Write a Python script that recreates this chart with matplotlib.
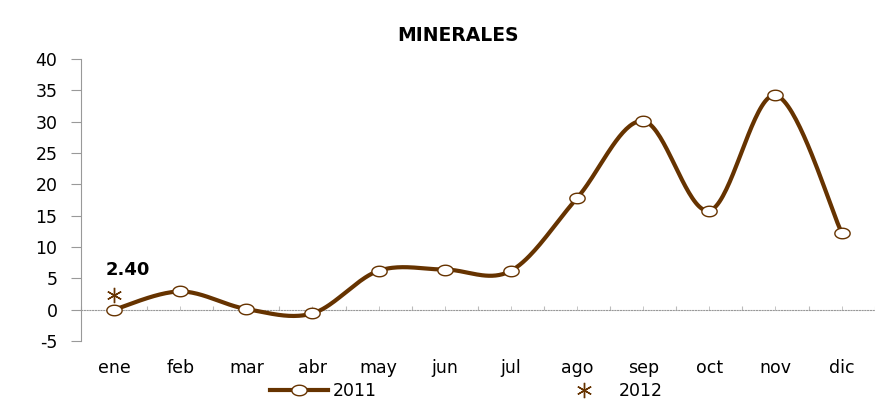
import numpy as np
import matplotlib
matplotlib.use("Agg")
import matplotlib.pyplot as plt
from matplotlib.path import Path
from matplotlib.lines import Line2D

months = ["ene", "feb", "mar", "abr", "may", "jun", "jul", "ago", "sep", "oct", "nov", "dic"]
v2011 = [0.0, 2.9, 0.1, -0.6, 6.2, 6.4, 6.2, 17.8, 30.1, 15.8, 34.2, 12.3]
v2012 = [2.40]
yticks = [-5, 0, 5, 10, 15, 20, 25, 30, 35, 40]

BROWN = "#663300"
plt.rcParams['font.family'] = ['DejaVu Sans']
plt.rcParams['axes.unicode_minus'] = False

fig = plt.figure(figsize=(8.75, 4.04), dpi=100)
ax = fig.add_axes([0.0926, 0.156, 0.907, 0.698])

x = np.arange(len(months))
y = np.array(v2011, dtype=float)

# Catmull-Rom / Bezier smoothing like Excel
def smooth(xs, ys, n=40):
    px = np.concatenate([[xs[0]], xs, [xs[-1]]])
    py = np.concatenate([[ys[0]], ys, [ys[-1]]])
    ox, oy = [], []
    for i in range(1, len(px) - 2):
        p0 = np.array([px[i-1], py[i-1]]); p1 = np.array([px[i], py[i]])
        p2 = np.array([px[i+1], py[i+1]]); p3 = np.array([px[i+2], py[i+2]])
        c1 = p1 + (p2 - p0) / 6.0
        c2 = p2 - (p3 - p1) / 6.0
        t = np.linspace(0, 1, n)[:, None]
        b = (1-t)**3*p1 + 3*(1-t)**2*t*c1 + 3*(1-t)*t**2*c2 + t**3*p2
        ox.extend(b[:, 0]); oy.extend(b[:, 1])
    return np.array(ox), np.array(oy)

sx, sy = smooth(x.astype(float), y)
ax.plot(sx, sy, color=BROWN, lw=3.0, solid_capstyle='round', zorder=3)

th = np.linspace(0, 2*np.pi, 60)
ell = Path(np.column_stack([1.45*np.cos(th), np.sin(th)]), closed=True)
ax.plot(x, y, ls='none', marker=ell, ms=11, mfc='white', mec=BROWN, mew=1.0, zorder=4)

ax.plot(x[:len(v2012)], v2012, ls='none', marker=(6, 2, 0), ms=11, color=BROWN, mew=1.0, zorder=4)
ax.annotate(f"{v2012[0]:.2f}", (x[0], v2012[0]), xytext=(10, 18), textcoords='offset points',
            ha='center', va='center', fontsize=13, fontweight='bold', color='black')

ax.set_xlim(-0.5, 11.5)
ax.set_ylim(-5, 40)
ax.set_yticks(yticks)
ax.tick_params(axis='y', length=7, color='#999999', labelsize=12.5, pad=10, labelcolor='black')
for s in ['top', 'right']:
    ax.spines[s].set_visible(False)
ax.spines['left'].set_color('#999999')
ax.spines['bottom'].set_position(('data', 0))
ax.spines['bottom'].set_color('#999999')
ax.spines['bottom'].set_linestyle((0, (1, 1.5)))
ax.spines['bottom'].set_linewidth(0.8)
ax.set_xticks(np.arange(-0.5, 12, 1.0))
ax.set_xticks(x, minor=True)
ax.tick_params(axis='x', which='both', direction='in', length=3, color='#bbbbbb', labelbottom=False)

sec = ax.secondary_xaxis(0)
sec.set_xticks(x)
sec.set_xticklabels(months)
sec.tick_params(length=0, labelsize=12.5, pad=13)
sec.spines['bottom'].set_visible(False)

fig.text(0.523, 0.913, "MINERALES", ha='center', va='center', fontsize=13.5, fontweight='bold')

h1 = Line2D([], [], color=BROWN, lw=3, marker=ell, ms=11, mfc='white', mec=BROWN)
h2 = Line2D([], [], ls='none', color=BROWN, marker=(6, 2, 0), ms=11, mew=1.0)
fig.legend([h1, h2], ["2011", "2012"], loc='center', bbox_to_anchor=(0.533, 0.032), ncol=2,
           frameon=False, fontsize=12.5, columnspacing=10.3, handlelength=3.3, handletextpad=0.3,
           borderpad=0)

fig.savefig("out.png", dpi=100)
